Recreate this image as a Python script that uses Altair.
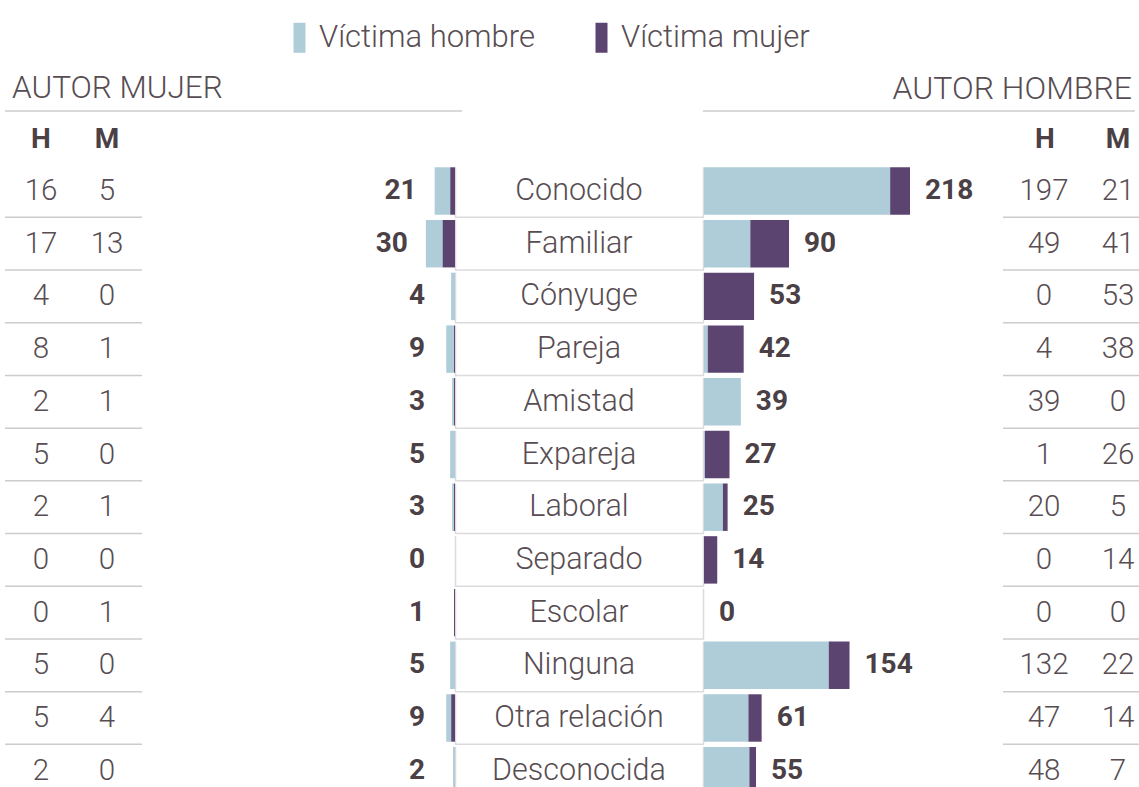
import altair as alt
import pandas as pd

categorias = ["Conocido", "Familiar", "Cónyuge", "Pareja", "Amistad", "Expareja",
              "Laboral", "Separado", "Escolar", "Ninguna", "Otra relación", "Desconocida"]
# Autor mujer
mujer_victima_hombre = [16, 17, 4, 8, 2, 5, 2, 0, 0, 5, 5, 2]
mujer_victima_mujer = [5, 13, 0, 1, 1, 0, 1, 0, 1, 0, 4, 0]
# Autor hombre
hombre_victima_hombre = [197, 49, 0, 4, 39, 1, 20, 0, 0, 132, 47, 48]
hombre_victima_mujer = [21, 41, 53, 38, 0, 26, 5, 14, 0, 22, 14, 7]

VH = "Víctima hombre"
VM = "Víctima mujer"

rows = pd.DataFrame({
    "cat": categorias,
    "idx": list(range(len(categorias))),
    "mH": mujer_victima_hombre,
    "mM": mujer_victima_mujer,
    "hH": hombre_victima_hombre,
    "hM": hombre_victima_mujer,
})
rows["mT"] = rows["mH"] + rows["mM"]
rows["hT"] = rows["hH"] + rows["hM"]

left_long = []
right_long = []
for _, r in rows.iterrows():
    left_long.append({"idx": r.idx, "victima": VM, "start": 0, "end": r.mM})
    left_long.append({"idx": r.idx, "victima": VH, "start": r.mM, "end": r.mT})
    right_long.append({"idx": r.idx, "victima": VH, "start": 0, "end": r.hH})
    right_long.append({"idx": r.idx, "victima": VM, "start": r.hH, "end": r.hT})
left_long = pd.DataFrame(left_long)
right_long = pd.DataFrame(right_long)

FONT = "Roboto"
C_TEXT = "#574d52"
C_BOLD = "#4a4045"
C_BLUE = "#aecdd9"
C_PURPLE = "#5c4470"
C_RULE = "#cccccc"
C_CELL = "#dddadd"

Y = alt.Scale(domain=[0, 11], range=[191, 770.7], nice=False, zero=False)
XL = alt.Scale(domain=[0, 100], range=[455, 358], nice=False, zero=False)
XR = alt.Scale(domain=[0, 100], range=[704, 798.5], nice=False, zero=False)

color = alt.Color(
    "victima:N",
    scale=alt.Scale(domain=[VH, VM], range=[C_BLUE, C_PURPLE]),
    legend=alt.Legend(
        title=None, orient="none", legendX=284, legendY=22, direction="horizontal",
        symbolType="M-0.4,-1H0.4V1H-0.4Z", symbolSize=900, symbolStrokeWidth=0,
        symbolOpacity=1, labelFont=FONT, labelFontSize=31, labelFontWeight=300,
        labelColor=C_TEXT, labelOffset=4, labelLimit=0, columnPadding=51, padding=0,
    ),
)

base = alt.Chart(rows)
one = alt.Data(values=[{"a": 1}])

def ytf(field):
    return alt.Y(field, scale=Y, axis=None)

# center cell borders
cell_bottom = base.mark_rule(color=C_CELL, strokeWidth=1.5).transform_calculate(
    yb="datum.idx + 0.5").encode(x=alt.value(455), x2=alt.value(704), y=ytf("yb:Q"))
cell_left = base.mark_rule(color=C_CELL, strokeWidth=1.5).transform_calculate(
    yt="datum.idx - 0.45", yb="datum.idx + 0.5").encode(
    x=alt.value(455.5), y=ytf("yt:Q"), y2="yb:Q")
cell_right = base.mark_rule(color=C_CELL, strokeWidth=1.5).transform_calculate(
    yt="datum.idx - 0.45", yb="datum.idx + 0.5").encode(
    x=alt.value(703.5), y=ytf("yt:Q"), y2="yb:Q")

# table separators
tab_left = base.mark_rule(color=C_RULE, strokeWidth=1.5).transform_calculate(
    yb="datum.idx + 0.5").encode(x=alt.value(5), x2=alt.value(142), y=ytf("yb:Q"))
tab_right = base.mark_rule(color=C_RULE, strokeWidth=1.5).transform_calculate(
    yb="datum.idx + 0.5").encode(x=alt.value(1003), x2=alt.value(1139), y=ytf("yb:Q"))

# bars
bars_left = alt.Chart(left_long).mark_rect().transform_calculate(
    yt="datum.idx - 0.45", yb="datum.idx + 0.45").encode(
    x=alt.X("start:Q", scale=XL, axis=None), x2="end:Q",
    y=ytf("yt:Q"), y2="yb:Q", color=color)
bars_right = alt.Chart(right_long).mark_rect().transform_calculate(
    yt="datum.idx - 0.45", yb="datum.idx + 0.45").encode(
    x=alt.X("start:Q", scale=XR, axis=None), x2="end:Q",
    y=ytf("yt:Q"), y2="yb:Q", color=color)

# totals
lab_left = base.mark_text(align="right", baseline="middle", font=FONT, fontSize=28,
                          fontWeight="bold", color=C_BOLD, dx=-18).transform_calculate(
    lx="max(datum.mT, 12.4)").encode(
    x=alt.X("lx:Q", scale=XL, axis=None), y=ytf("idx:Q"), text="mT:Q")
lab_right = base.mark_text(align="left", baseline="middle", font=FONT, fontSize=28,
                           fontWeight="bold", color=C_BOLD, dx=15).encode(
    x=alt.X("hT:Q", scale=XR, axis=None), y=ytf("idx:Q"), text="hT:Q")

# categories
cats = base.mark_text(align="center", baseline="middle", font=FONT, fontSize=30.5,
                      fontWeight=300, color=C_TEXT).encode(
    x=alt.value(579), y=ytf("idx:Q"), text="cat:N")

def col(field, xpos):
    return base.mark_text(align="center", baseline="middle", font=FONT, fontSize=29.5,
                          fontWeight=300, color=C_TEXT).encode(
        x=alt.value(xpos), y=ytf("idx:Q"), text=f"{field}:Q")

tables = [col("mH", 41), col("mM", 107), col("hH", 1044), col("hM", 1118)]

def htext(txt, xpos, ypos, align="center", size=28, weight="bold"):
    return alt.Chart(one).mark_text(align=align, baseline="middle", font=FONT,
                                    fontSize=size, fontWeight=weight,
                                    color=C_BOLD if weight == "bold" else C_TEXT).encode(
        x=alt.value(xpos), y=alt.value(ypos), text=alt.value(txt))

headers = [
    htext("AUTOR MUJER", 12, 89, align="left", size=31.5, weight=300),
    htext("AUTOR HOMBRE", 1132, 89, align="right", size=32, weight=300),
    htext("H", 41, 140), htext("M", 107, 140),
    htext("H", 1045, 140), htext("M", 1118, 140),
]
head_rules = [
    alt.Chart(one).mark_rule(color=C_RULE, strokeWidth=1.5).encode(
        x=alt.value(5), x2=alt.value(462), y=alt.value(111)),
    alt.Chart(one).mark_rule(color=C_RULE, strokeWidth=1.5).encode(
        x=alt.value(703), x2=alt.value(1135), y=alt.value(111)),
]

chart = alt.layer(
    cell_bottom, cell_left, cell_right, tab_left, tab_right,
    bars_left, bars_right, lab_left, lab_right, cats,
    *tables, *headers, *head_rules,
).resolve_scale(x="independent").properties(
    width=1139, height=787, padding=0, autosize=alt.AutoSizeParams(type="none"),
).configure_view(stroke=None)

chart.save("out.html", embed_options={"renderer": "svg", "actions": False})
